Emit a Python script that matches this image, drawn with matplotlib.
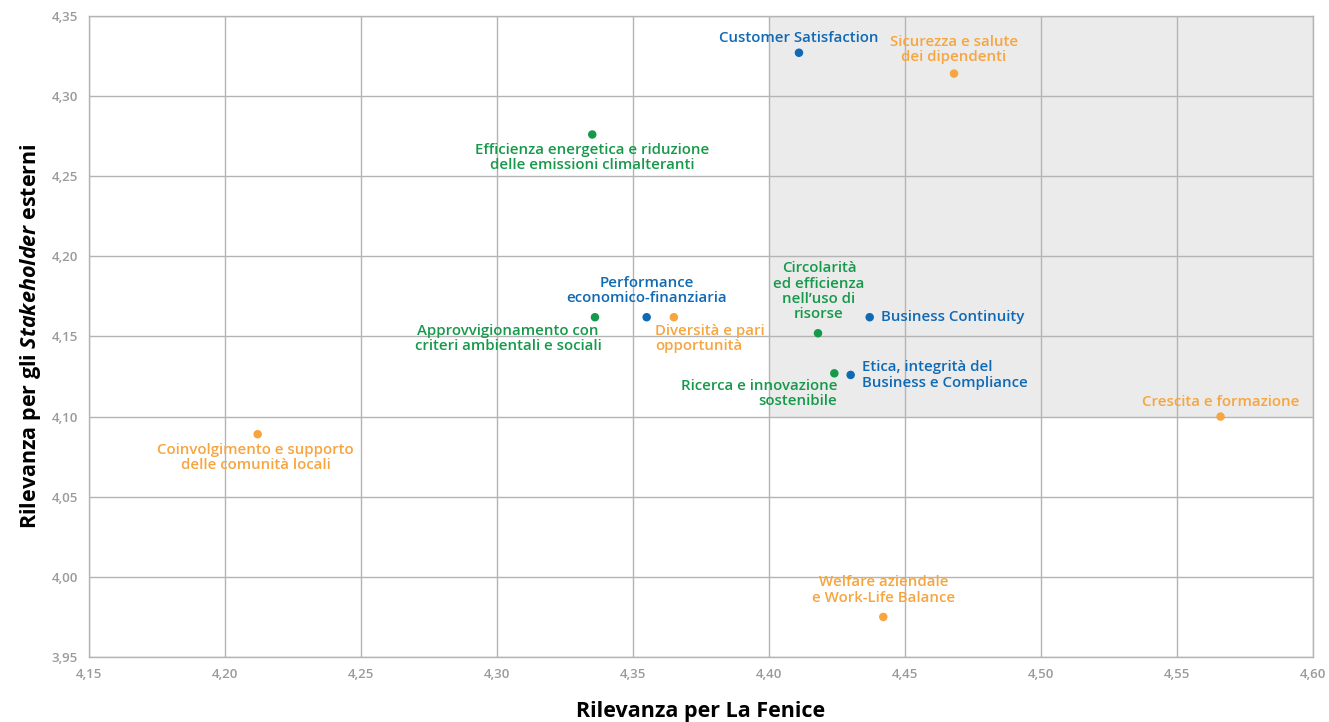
import matplotlib.pyplot as plt
from matplotlib.ticker import FuncFormatter

plt.rcParams['font.family'] = ['Open Sans', 'DejaVu Sans']
plt.rcParams['mathtext.fontset'] = 'custom'
plt.rcParams['mathtext.it'] = 'Open Sans:italic:bold'

BLU = "#0f69b4"
VERDE = "#16994a"
ARANCIO = "#f6a53f"

temi = [
    "Customer Satisfaction",
    "Sicurezza e salute\ndei dipendenti",
    "Efficienza energetica e riduzione\ndelle emissioni climalteranti",
    "Performance\neconomico-finanziaria",
    "Diversità e pari\nopportunità",
    "Approvvigionamento con\ncriteri ambientali e sociali",
    "Circolarità\ned efficienza\nnell’uso di\nrisorse",
    "Business Continuity",
    "Ricerca e innovazione\nsostenibile",
    "Etica, integrità del\nBusiness e Compliance",
    "Crescita e formazione",
    "Coinvolgimento e supporto\ndelle comunità locali",
    "Welfare aziendale\ne Work-Life Balance",
]
rilevanza_fenice = [4.411, 4.468, 4.335, 4.355, 4.365, 4.336, 4.418, 4.437,
                    4.424, 4.430, 4.566, 4.212, 4.442]
rilevanza_stakeholder = [4.327, 4.314, 4.276, 4.162, 4.162, 4.162, 4.152, 4.162,
                         4.127, 4.126, 4.100, 4.089, 3.975]
colori = [BLU, ARANCIO, VERDE, BLU, ARANCIO, VERDE, VERDE, BLU,
          VERDE, BLU, ARANCIO, ARANCIO, ARANCIO]

# posizione delle etichette rispetto al punto (pixel), allineamento
etichette = [
    ((0, 15), "center", "center"),
    ((0, 24), "center", "center"),
    ((0, -23), "center", "center"),
    ((0, 27), "center", "center"),
    ((-19, -21), "left", "left"),
    ((-87, -21), "center", "center"),
    ((1, 42), "center", "center"),
    ((11, 0), "left", "left"),
    ((3, -20), "right", "right"),
    ((11, 0), "left", "left"),
    ((0, 15), "center", "center"),
    ((-2, -23), "center", "center"),
    ((0, 27), "center", "center"),
]

fig = plt.figure(figsize=(13.29, 7.22), dpi=100)
ax = fig.add_axes([0.067, 0.090, 0.921, 0.888])

# quadrante di maggiore rilevanza
ax.fill_between([4.40, 4.60], 4.10, 4.35, color="#ebebeb", linewidth=0, zorder=0)

ax.scatter(rilevanza_fenice, rilevanza_stakeholder, c=colori, s=26, zorder=3)

for testo, x, y, col, (off, ha, ma) in zip(temi, rilevanza_fenice, rilevanza_stakeholder, colori, etichette):
    ax.annotate(testo, (x, y), xytext=off, textcoords="offset pixels",
                ha=ha, va="center", multialignment=ma, color=col,
                fontsize=10.8, fontweight="semibold", linespacing=1.12, zorder=4)

ax.set_xlim(4.15, 4.60)
ax.set_ylim(3.95, 4.35)
ax.set_xticks([4.15 + 0.05 * i for i in range(10)])
ax.set_yticks([3.95 + 0.05 * i for i in range(9)])
virgola = FuncFormatter(lambda v, p: f"{v:.2f}".replace(".", ","))
ax.xaxis.set_major_formatter(virgola)
ax.yaxis.set_major_formatter(virgola)
ax.tick_params(length=0, colors="#9a9a9a", labelsize=9.5, pad=8)
for lab in ax.get_xticklabels() + ax.get_yticklabels():
    lab.set_fontweight("semibold")

ax.grid(True, color="#b4b4b4", linewidth=1, zorder=1)
ax.set_axisbelow(True)
for s in ax.spines.values():
    s.set_color("#b4b4b4")
    s.set_linewidth(1)

ax.set_xlabel("Rilevanza per La Fenice", fontsize=15.5, fontweight="bold", labelpad=14)
ax.set_ylabel(r"Rilevanza per gli $\it{Stakeholder}$ esterni", fontsize=15.5,
              fontweight="bold", labelpad=6)

fig.savefig("out.png", dpi=100)
